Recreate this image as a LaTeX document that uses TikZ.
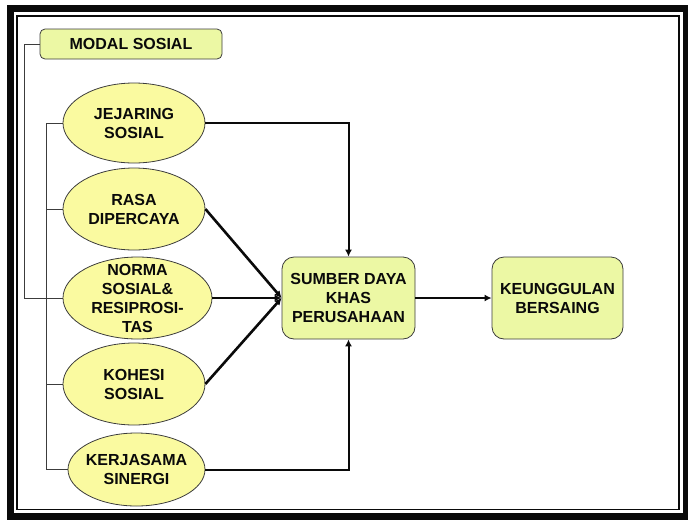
\documentclass[tikz,border=0pt]{standalone}
\usepackage{fontspec}
\setmainfont{Liberation Sans}
\usepackage{tikz}
\usetikzlibrary{shapes.geometric,arrows.meta,positioning}
\definecolor{msblack}{RGB}{10,10,10}
\definecolor{msdark}{RGB}{60,60,60}
\definecolor{msyellow}{RGB}{250,250,160}
\definecolor{msgreen}{RGB}{236,248,164}

\begin{document}
\begin{tikzpicture}[x=1pt,y=-1pt,
    every label/.style={align=center,text=msblack,font=\bfseries\fontsize{16}{19}\selectfont},
    factor/.style={ellipse,draw=msdark,fill=msyellow,line width=0.8pt,inner sep=0pt},
    block/.style={draw=msdark,fill=msgreen,line width=0.8pt,rounded corners=12pt,
      align=center,text=msblack,font=\bfseries\fontsize{16}{19}\selectfont,
      minimum height=82pt,inner sep=0pt},
    link/.style={draw=msdark,line width=0.9pt},
    feed/.style={draw=msblack,line width=2pt,-{Latex[length=7pt,width=7pt]}},
    merge/.style={draw=msblack,line width=2.6pt,-{Latex[length=7pt,width=7pt]}}]
    \useasboundingbox (0,0) rectangle (688,520);
    % frame
    \draw[line width=7pt,msblack] (10,8.5) rectangle (686.5,516.5);
    \draw[line width=1.5pt,msblack] (17,16) rectangle (679,509.5);
    % boxes
    \node[block,rounded corners=5pt,minimum width=182pt,minimum height=30pt] (modal) at (131,44) {MODAL SOSIAL};
    \node[block,minimum width=133pt] (sumber) at (348.5,298) {SUMBER DAYA\\KHAS\\PERUSAHAAN};
    \node[block,minimum width=131pt] (unggul) at (557.5,298) {KEUNGGULAN\\BERSAING};
    % ellipses
    \node[factor,minimum width=142pt,minimum height=80pt,label={center:JEJARING\\SOSIAL}] (jejaring) at (134,123) {};
    \node[factor,minimum width=142pt,minimum height=82pt,label={center:RASA\\DIPERCAYA}] (rasa) at (134,209) {};
    \node[factor,minimum width=149pt,minimum height=82pt,label={center:NORMA\\SOSIAL\&\\RESIPROSI-\\TAS}] (norma) at (137.5,298) {};
    \node[factor,minimum width=142pt,minimum height=82pt,label={center:KOHESI\\SOSIAL}] (kohesi) at (134,384) {};
    \node[factor,minimum width=137pt,minimum height=73pt,label={center:KERJASAMA\\SINERGI}] (kerja) at (136.5,469.5) {};
    % bracket
    \coordinate[left=16pt of jejaring.west] (brk);
    \draw[link] (jejaring.west) -- (brk) |- (kerja.west);
    \foreach \f in {rasa,norma,kohesi}
      \draw[link] (\f.west) -- (\f.west -| brk);
    \draw[link] (modal.west) -- ++(-15,0) |- (norma.west);
    % arrows
    \draw[feed] (jejaring.east) -| (sumber.north);
    \draw[feed] (kerja.east) -| (sumber.south);
    \foreach \f in {rasa,norma,kohesi}
      \draw[merge] (\f.east) -- (sumber.west);
    \draw[feed] (sumber) -- (unggul);
\end{tikzpicture}
\end{document}
